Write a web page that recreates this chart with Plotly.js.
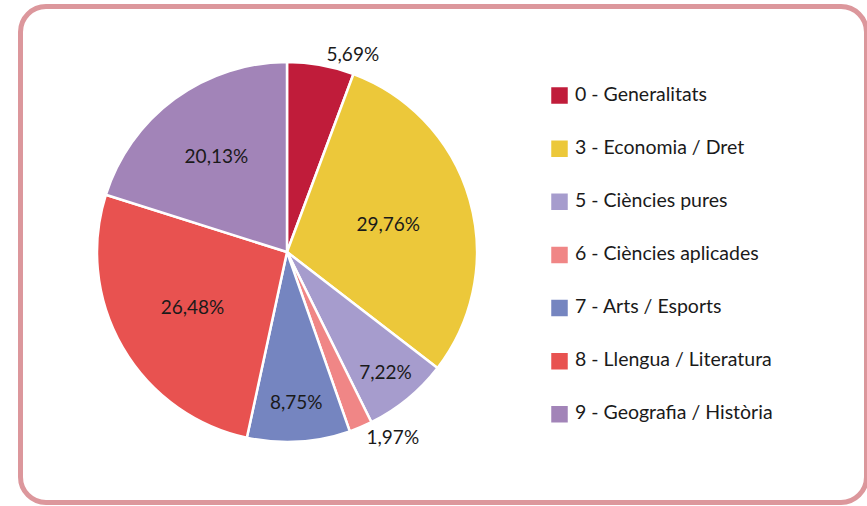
<!DOCTYPE html>
<html>
<head>
<meta charset="utf-8">
<script src="https://cdn.plot.ly/plotly-3.0.1.min.js"></script>
<style>
  html, body { margin: 0; padding: 0; background: #ffffff; overflow: hidden; }
  #frame { position: absolute; left: 18px; top: 4px; width: 851px; height: 501px;
           box-sizing: border-box; border: 5px solid #dc979c; border-radius: 28px; }
  #chart { position: absolute; left: 0; top: 0; width: 867px; height: 506px; }
</style>
</head>
<body>
<div id="frame"></div>
<div id="chart"></div>
<script>
const categories = [
  "0 - Generalitats",
  "3 - Economia / Dret",
  "5 - Ciències pures",
  "6 - Ciències aplicades",
  "7 - Arts / Esports",
  "8 - Llengua / Literatura",
  "9 - Geografia / Història"
];
const percentages = [5.69, 29.76, 7.22, 1.97, 8.75, 26.48, 20.13];
const sliceColors = ["#c01c3a", "#ecc83a", "#a69ccd", "#f08686", "#7585c0", "#e85250", "#a284b8"];
const labelPositions = ["outside", "inside", "inside", "outside", "inside", "inside", "inside"];

const FONT = "Lato, 'Open Sans', sans-serif";
const legendLabels = categories.map(c =>
  "\u00a0<br><span style=\"font-size:19.5px\">" + c + "</span><br>\u00a0");

const trace = {
  type: "pie",
  labels: legendLabels,
  values: percentages,
  sort: false,
  direction: "clockwise",
  rotation: 0,
  marker: { colors: sliceColors, line: { color: "#ffffff", width: 2.5 } },
  texttemplate: "%{value:.2f}%",
  textposition: labelPositions,
  insidetextorientation: "horizontal",
  textfont: { family: FONT, size: 19, color: "#1a1a1a" },
  insidetextfont: { family: FONT, size: 19, color: "#1a1a1a" },
  outsidetextfont: { family: FONT, size: 19, color: "#1a1a1a" },
  hoverinfo: "none",
  domain: { x: [97 / 867, 477 / 867], y: [1 - 442 / 506, 1 - 62 / 506] }
};

const layout = {
  width: 867,
  height: 506,
  margin: { l: 0, r: 0, t: 0, b: 0 },
  paper_bgcolor: "rgba(0,0,0,0)",
  plot_bgcolor: "rgba(0,0,0,0)",
  separators: ", ",
  font: { family: FONT, color: "#1a1a1a" },
  showlegend: true,
  legend: {
    x: 535 / 867, xanchor: "left",
    y: 1 - 64 / 506, yanchor: "top",
    bgcolor: "rgba(0,0,0,0)",
    borderwidth: 0,
    font: { family: FONT, size: 12.85, color: "#1a1a1a" },
    traceorder: "normal"
  }
};

Plotly.newPlot("chart", [trace], layout, { displayModeBar: false, staticPlot: true }).then(() => {
  document.querySelectorAll("#chart path.legendpie").forEach(p => {
    p.setAttribute("d", "M14,9.5H-5V-9.5H14Z");
  });
});
</script>
</body>
</html>
